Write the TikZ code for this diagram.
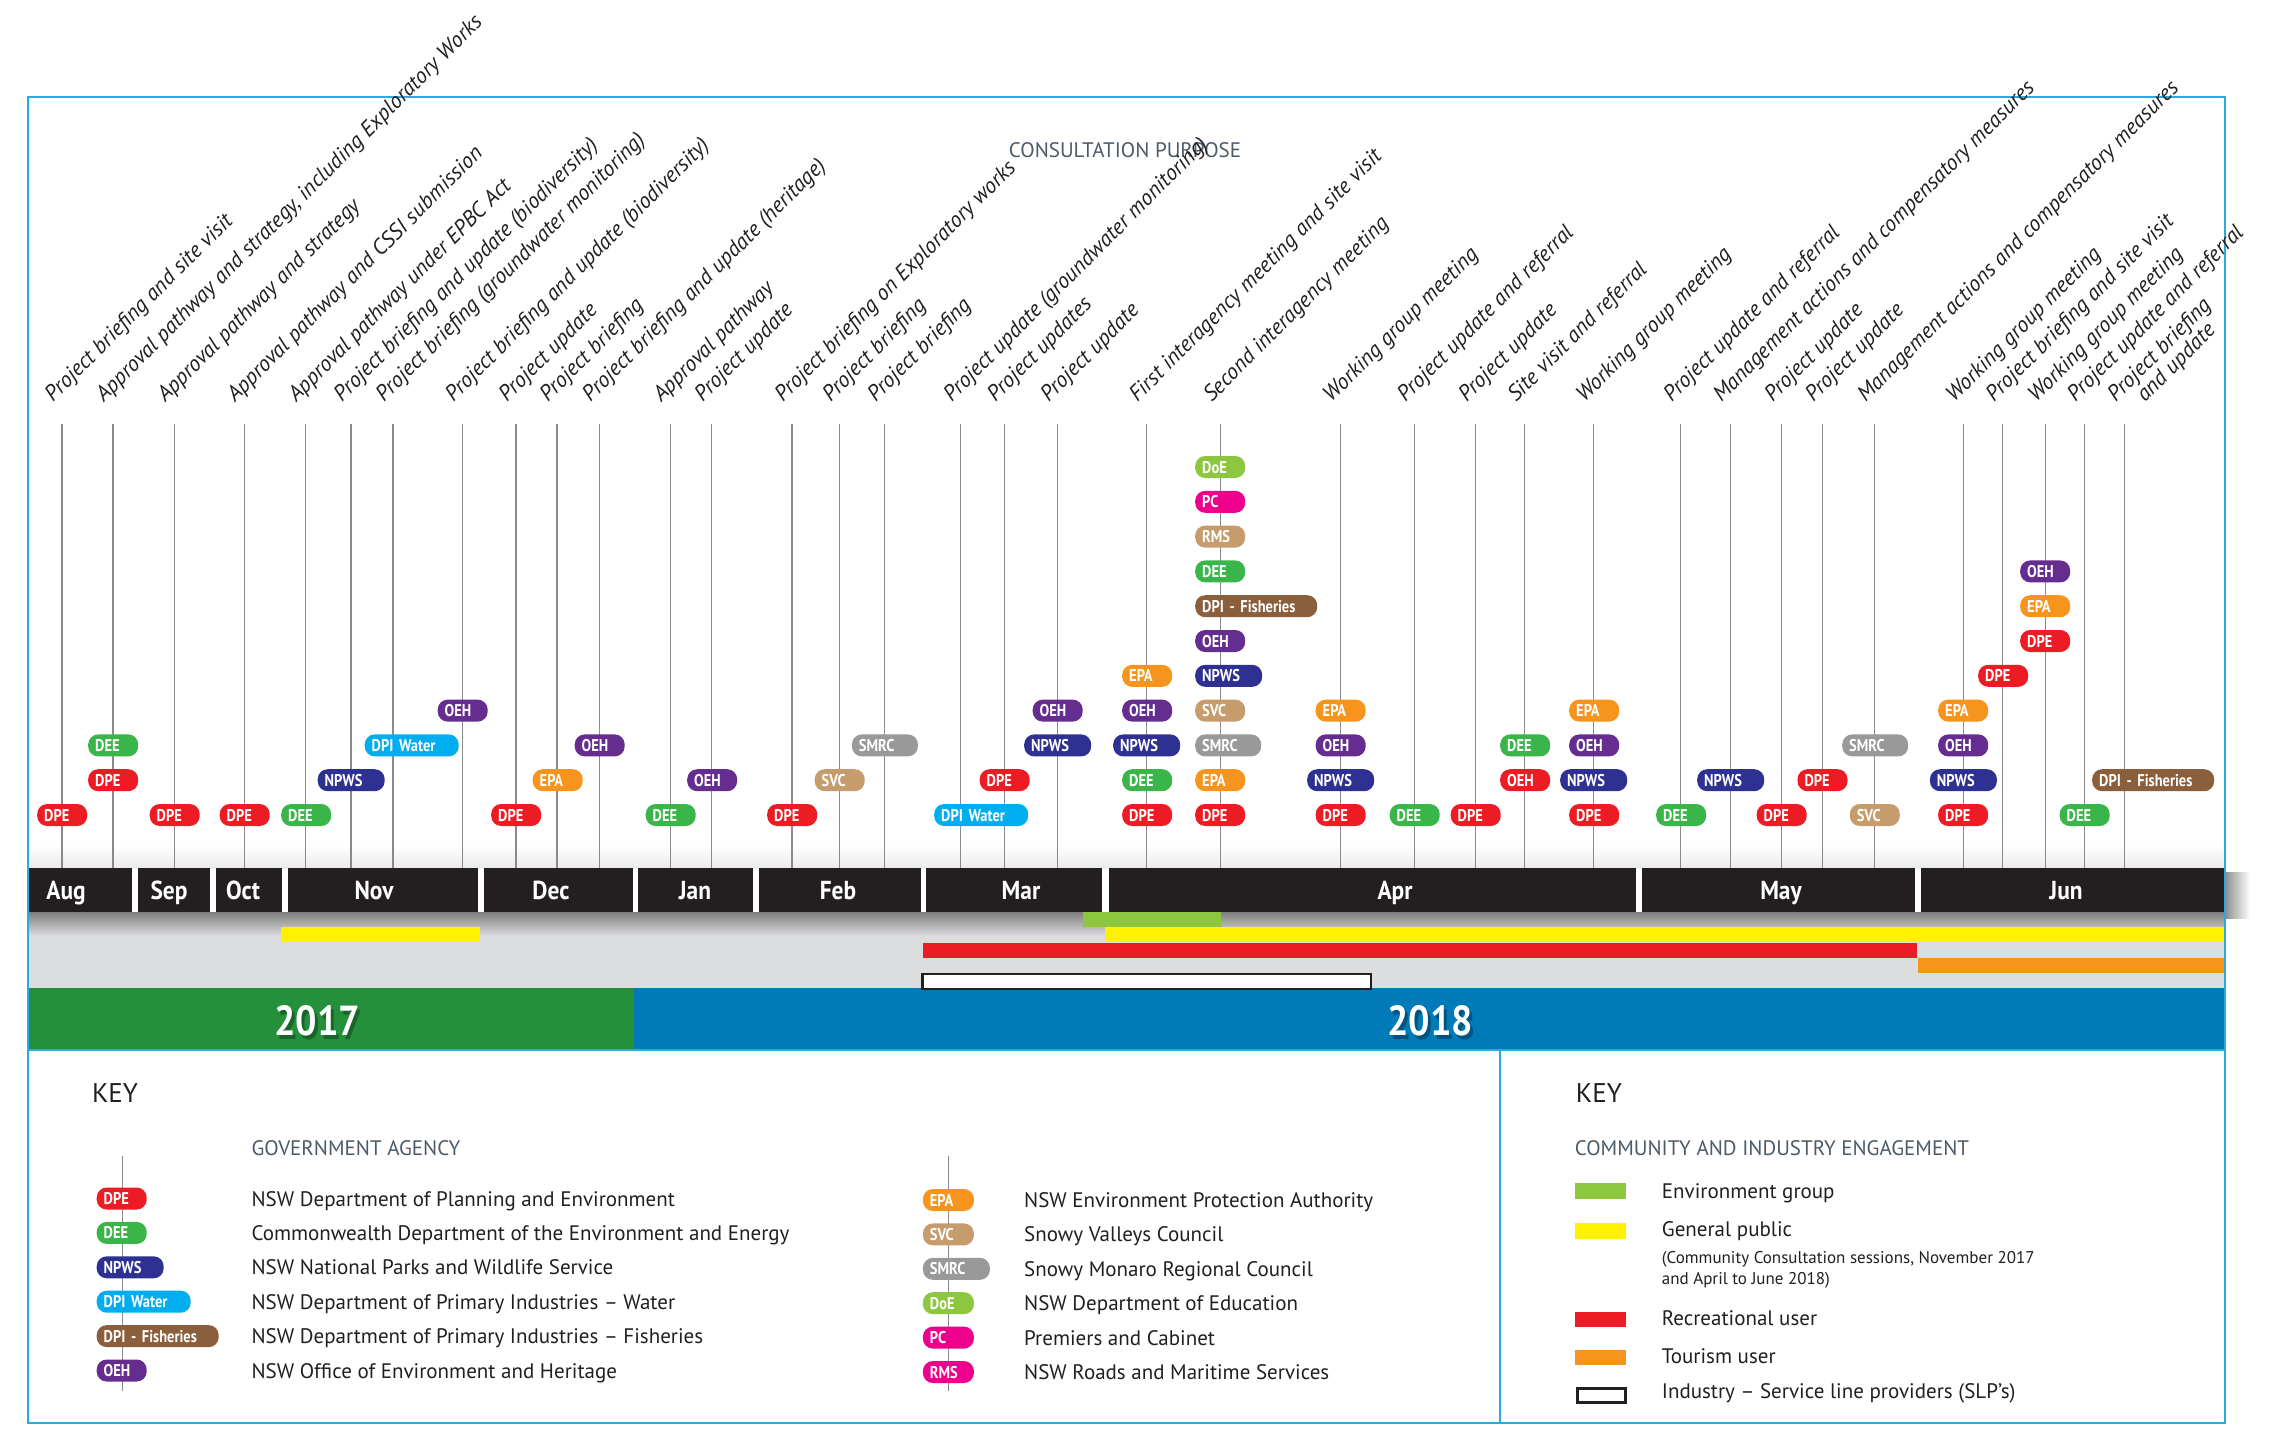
\documentclass[tikz,border=0pt]{standalone}
\usepackage{fontspec}
\setmainfont{PT Sans}
\newfontfamily\condfont[FakeStretch=0.9]{PT Sans}
\newfontfamily\badgefont[FakeStretch=0.85]{PT Sans}
\definecolor{cDPE}{HTML}{ED1C24}
\definecolor{cDEE}{HTML}{39B54A}
\definecolor{cNPWS}{HTML}{2E3192}
\definecolor{cDPIW}{HTML}{00AEEF}
\definecolor{cDPIF}{HTML}{8B5E3C}
\definecolor{cOEH}{HTML}{662D91}
\definecolor{cEPA}{HTML}{F7941D}
\definecolor{cSVC}{HTML}{C69C6D}
\definecolor{cSMRC}{HTML}{999999}
\definecolor{cDoE}{HTML}{8DC63F}
\definecolor{cPC}{HTML}{EC008C}
\definecolor{frameblue}{HTML}{29ABE2}
\definecolor{ink}{HTML}{231F20}
\definecolor{slate}{HTML}{4D5B69}
\definecolor{bandgray}{HTML}{DCDDDF}
\definecolor{yrgreen}{HTML}{25903C}
\definecolor{yrblue}{HTML}{007BB8}
\definecolor{cYel}{HTML}{FFF200}
\definecolor{vgray}{HTML}{8A8A8A}
\begin{document}
\begin{tikzpicture}[x=1pt,y=-1pt,
  vline/.style={draw=vgray, line width=1.1pt},
  framel/.style={draw=frameblue, line width=2pt},
  badge/.style={rounded corners=10pt, minimum height=22pt, inner xsep=7pt, inner ysep=0pt,
    text=white, font=\badgefont\bfseries\fontsize{17}{17}\selectfont, align=left, anchor=west,
    text height=12pt, text depth=0pt},
  lab/.style={anchor=base west, rotate=45, inner sep=0pt, text=ink, font=\itshape\fontsize{22}{24}\selectfont},
  mon/.style={anchor=base, inner sep=0pt, text=white, font=\condfont\bfseries\fontsize{26}{26}\selectfont},
  yr/.style={anchor=base, inner sep=0pt, font=\condfont\bfseries\fontsize{42}{42}\selectfont},
  keyhead/.style={anchor=base west, inner sep=0pt, text=ink, font=\fontsize{27}{27}\selectfont},
  subhead/.style={anchor=base west, inner sep=0pt, text=slate, font=\fontsize{21}{21}\selectfont},
  desc/.style={anchor=base west, inner sep=0pt, text=ink, font=\fontsize{21}{21}\selectfont},
  smalld/.style={anchor=base west, inner sep=0pt, text=ink, font=\fontsize{17}{17}\selectfont},
  swatch/.style={anchor=north west, inner sep=0pt, minimum width=51pt, minimum height=15.5pt}
]
\fill[white] (0,0) rectangle (2280,1433);
\useasboundingbox (0,0) rectangle (2280,1433);

% soft grey near bottom of chart area
\shade[top color=white, bottom color=black!8] (27.6,845) rectangle (2224.6,868);

% vertical timeline lines
\foreach \x [count=\i] in {62,113,174.5,244.3,305.4,351,393,462.4,516,557,599.6,670.4,711.6,792,839.6,884.7,960.8,1004.4,1057.7,1146.4,1220.6,1340.3,1414.5,1475.7,1524.9,1593.4,1680.7,1730.4,1781.7,1822.4,1874.7,1963.1,2002.9,2045.2,2084.5,2124.7}{
  \coordinate (t\i) at (\x,424);
  \coordinate (u\i) at (\x,868);
  \draw[vline] (t\i) -- (u\i);
}

% badges
\foreach \c/\w/\t/\x/\r [count=\i] in {
cDPE/36/DPE/37/1,
cDPE/36/DPE/88/2, cDEE/36/DEE/88/3,
cDPE/36/DPE/149.5/1,
cDPE/36/DPE/219.5/1,
cDEE/36/DEE/281/1,
cNPWS/53/NPWS/317.5/2,
cDPIW/80/DPI Water/364.5/3,
cOEH/36/OEH/437.5/4,
cDPE/36/DPE/491/1,
cEPA/36/EPA/532.5/2,
cOEH/36/OEH/574.5/3,
cDEE/36/DEE/645.5/1,
cOEH/36/OEH/687/2,
cDPE/36/DPE/767/1,
cSVC/36/SVC/814.5/2,
cSMRC/52/SMRC/851.7/3,
cDPIW/80/DPI Water/934/1,
cDPE/36/DPE/979.5/2,
cNPWS/53/NPWS/1024/3, cOEH/36/OEH/1032.5/4,
cDPE/36/DPE/1122/1, cDEE/36/DEE/1122/2, cNPWS/53/NPWS/1113/3, cOEH/36/OEH/1122/4, cEPA/36/EPA/1122/5,
cDPE/36/DPE/1195/1, cEPA/36/EPA/1195/2, cSMRC/52/SMRC/1195/3, cSVC/36/SVC/1195/4, cNPWS/53/NPWS/1195/5, cOEH/36/OEH/1195/6, cDPIF/108/DPI - Fisheries/1195/7, cDEE/36/DEE/1195/8, cSVC/36/RMS/1195/9, cPC/36/PC/1195/10, cDoE/36/DoE/1195/11,
cDPE/36/DPE/1315.5/1, cNPWS/53/NPWS/1307/2, cOEH/36/OEH/1315.5/3, cEPA/36/EPA/1315.5/4,
cDEE/36/DEE/1389.5/1,
cDPE/36/DPE/1450.5/1,
cDPE/36/OEH/1500/2, cDEE/36/DEE/1500/3,
cDPE/36/DPE/1569/1, cNPWS/53/NPWS/1560/2, cOEH/36/OEH/1569/3, cEPA/36/EPA/1569/4,
cDEE/36/DEE/1656/1,
cNPWS/53/NPWS/1697/2,
cDPE/36/DPE/1756.5/1,
cDPE/36/DPE/1797.3/2,
cSVC/36/SVC/1849.6/1, cSMRC/52/SMRC/1842/3,
cDPE/36/DPE/1938/1, cNPWS/53/NPWS/1929.7/2, cOEH/36/OEH/1938/3, cEPA/36/EPA/1938/4,
cDPE/36/DPE/1978/5,
cDPE/36/DPE/2020/6, cEPA/36/EPA/2020/7, cOEH/36/OEH/2020/8,
cDEE/36/DEE/2059.5/1,
cDPIF/108/DPI - Fisheries/2092/2}{
  \node[badge, fill=\c, text width=\w pt] (bd\i) at (\x,{815-34.8*(\r-1)}) {\t};
}

% month bar
\shade[left color=black!45, right color=white] (2224.6,872) rectangle (2250,918);
\foreach \a/\b/\m/\c [count=\i] in {27.6/132/Aug/66, 138/210/Sep/169, 216/282/Oct/243, 288/477.5/Nov/374, 484/632.6/Dec/551, 638.4/753/Jan/695, 759/920.6/Feb/838, 926.4/1102.3/Mar/1021, 1108.6/1635.7/Apr/1395, 1641.5/1915/May/1781, 1921.3/2224.6/Jun/2066}{
  \fill[ink] (\a,868) rectangle (\b,912);
  \node[mon] (m\i) at (\c,899.5) {\m};
}

% grey engagement band
\fill[bandgray] (27.6,912) rectangle (2224.6,988);
\shade[top color=black!50, bottom color=bandgray] (27.6,912) rectangle (2224.6,936);
\fill[cDoE] (1083,912) rectangle (1220.6,927);
\fill[cYel] (281,927) rectangle (480.4,942);
\fill[cYel] (1105.3,927) rectangle (2224.6,942);
\fill[cDPE] (922.6,942.7) rectangle (1917.3,957.7);
\fill[cEPA] (1918,958) rectangle (2224.6,973.3);

% year band
\fill[yrgreen] (27.6,988) rectangle (634.4,1050);
\fill[yrblue] (634.4,988) rectangle (2224.6,1050);
\draw[ink, line width=2.5pt, fill=white] (922.6,974) rectangle (1371,989);
\node[yr, text=black, opacity=0.3] (y17s) at (320,1039) {2017};
\node[yr, text=white] (y17) at (317,1035) {2017};
\node[yr, text=black, opacity=0.3] (y18s) at (1433,1039) {2018};
\node[yr, text=white] (y18) at (1430,1035) {2018};

% frame
\draw[framel] (27.6,97) rectangle (2224.6,1423);
\draw[framel] (27.6,1050) -- (2224.6,1050);
\draw[framel] (1499.6,1050) -- (1499.6,1423);

% consultation purpose labels
\node[anchor=base, inner sep=0pt, text=slate, font=\fontsize{21}{21}\selectfont] (cp) at (1125,157.3) {CONSULTATION PURPOSE};
\foreach \x/\t [count=\i] in {
62/{Project briefing and site visit},
113/{Approval pathway and strategy, including Exploratory Works},
174.5/{Approval pathway and strategy},
244.3/{Approval pathway and CSSI submission},
305.4/{Approval pathway under EPBC Act},
351/{Project briefing and update (biodiversity)},
393/{Project briefing (groundwater monitoring)},
462.4/{Project briefing and update (biodiversity)},
516/{Project update},
557/{Project briefing},
599.6/{Project briefing and update (heritage)},
670.4/{Approval pathway},
711.6/{Project update},
792/{Project briefing on Exploratory works},
839.6/{Project briefing},
884.7/{Project briefing},
960.8/{Project update (groundwater monitoring)},
1004.4/{Project updates},
1057.7/{Project update},
1146.4/{First interagency meeting and site visit},
1220.6/{Second interagency meeting},
1340.3/{Working group meeting},
1414.5/{Project update and referral},
1475.7/{Project update},
1524.9/{Site visit and referral},
1593.4/{Working group meeting},
1680.7/{Project update and referral},
1730.4/{Management actions and compensatory measures},
1781.7/{Project update},
1822.4/{Project update},
1874.7/{Management actions and compensatory measures},
1963.1/{Working group meeting},
2002.9/{Project briefing and site visit},
2045.2/{Working group meeting},
2084.5/{Project update and referral},
2124.7/{Project briefing}}{
  \node[lab] (lab\i) at (\x-9,403) {\t};
}
\node[lab] (lab37) at (2145,403) {and update};

% ---- KEY left ----
\node[keyhead] (k1) at (91.8,1102.7) {KEY};
\node[subhead] (ga) at (251.4,1155) {GOVERNMENT AGENCY};
\coordinate (kl1) at (122.3,1156);
\coordinate (kl2) at (122.3,1391);
\draw[vline] (kl1) -- (kl2);
\foreach \c/\w/\t/\d [count=\i] in {
cDPE/36/DPE/{NSW Department of Planning and Environment},
cDEE/36/DEE/{Commonwealth Department of the Environment and Energy},
cNPWS/53/NPWS/{NSW National Parks and Wildlife Service},
cDPIW/80/DPI Water/{NSW Department of Primary Industries – Water},
cDPIF/108/DPI - Fisheries/{NSW Department of Primary Industries – Fisheries},
cOEH/36/OEH/{NSW Office of Environment and Heritage}}{
  \node[badge, fill=\c, text width=\w pt] (kb\i) at (96.5,{1198.5+34.4*(\i-1)}) {\t};
  \node[desc] (kd\i) at (251.4,{1206+34.4*(\i-1)}) {\d};
}
% ---- KEY middle ----
\coordinate (km1) at (948.2,1156);
\coordinate (km2) at (948.2,1391);
\draw[vline] (km1) -- (km2);
\foreach \c/\w/\t/\d [count=\i] in {
cEPA/37/EPA/{NSW Environment Protection Authority},
cSVC/37/SVC/{Snowy Valleys Council},
cSMRC/53/SMRC/{Snowy Monaro Regional Council},
cDoE/37/DoE/{NSW Department of Education},
cPC/37/PC/{Premiers and Cabinet},
cPC/37/RMS/{NSW Roads and Maritime Services}}{
  \node[badge, fill=\c, text width=\w pt] (mb\i) at (922.7,{1200+34.4*(\i-1)}) {\t};
  \node[desc] (md\i) at (1024,{1207.5+34.4*(\i-1)}) {\d};
}
% ---- KEY right ----
\node[keyhead] (k2) at (1575.6,1102.7) {KEY};
\node[subhead] (cie) at (1574.6,1155) {COMMUNITY AND INDUSTRY ENGAGEMENT};
\node[swatch, fill=cDoE] (sw1) at (1574.6,1183) {};
\node[swatch, fill=cYel] (sw2) at (1574.6,1223) {};
\node[swatch, fill=cDPE] (sw3) at (1574.6,1311.7) {};
\node[swatch, fill=cEPA] (sw4) at (1574.6,1349.3) {};
\node[swatch, draw=ink, line width=3pt, fill=white, minimum width=48pt, minimum height=14pt] (sw5) at (1576,1387.2) {};
\node[desc] (r1) at (1661.7,1198.3) {Environment group};
\node[desc] (r2) at (1661.7,1236) {General public};
\node[smalld] (r3) at (1661.7,1263) {(Community Consultation sessions, November 2017};
\node[smalld] (r4) at (1661.7,1284) {and April to June 2018)};
\node[desc] (r5) at (1661.7,1325) {Recreational user};
\node[desc] (r6) at (1661.7,1363) {Tourism user};
\node[desc] (r7) at (1661.7,1398) {Industry – Service line providers (SLP’s)};
\end{tikzpicture}
\end{document}
